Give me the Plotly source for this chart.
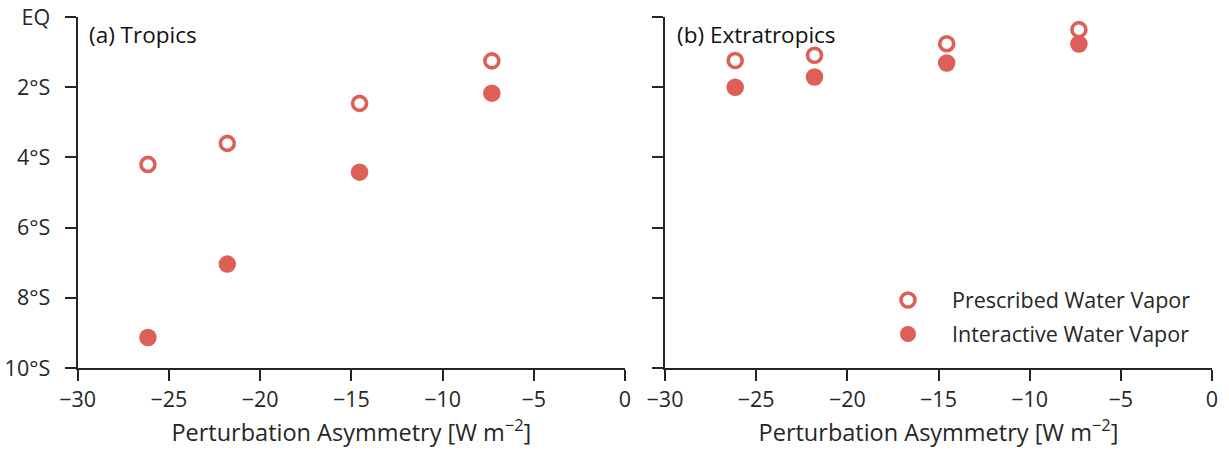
import plotly.graph_objects as go

# Data
forcing = [-26.15, -21.8, -14.55, -7.3]
trop_prescribed = [-4.20, -3.60, -2.46, -1.25]
trop_interactive = [-9.13, -7.04, -4.42, -2.17]
extra_prescribed = [-1.24, -1.09, -0.76, -0.36]
extra_interactive = [-2.00, -1.71, -1.31, -0.77]

ytick_vals = [0, -2, -4, -6, -8, -10]
ytick_text = ["EQ", "2°S", "4°S", "6°S", "8°S", "10°S"]
xtick_vals = [-30, -25, -20, -15, -10, -5, 0]
xtick_text = ["−30", "−25", "−20", "−15", "−10", "−5", "0"]

RED = "#dd5f57"
INK = "#262626"
FONT = "Open Sans"
FS = 21.5
W, H = 1229, 452

fig = go.Figure()

def add_panel(prescribed, interactive, xa, ya, show):
    fig.add_trace(go.Scatter(
        x=forcing, y=prescribed, mode="markers", xaxis=xa, yaxis=ya,
        name="Prescribed Water Vapor", showlegend=show, legend="legend",
        marker=dict(symbol="circle", size=14, color="white",
                    line=dict(color=RED, width=3.6)),
    ))
    fig.add_trace(go.Scatter(
        x=forcing, y=interactive, mode="markers", xaxis=xa, yaxis=ya,
        name="Interactive Water Vapor", showlegend=show, legend="legend2",
        marker=dict(symbol="circle", size=17.5, color=RED, line=dict(width=0)),
    ))

add_panel(trop_prescribed, trop_interactive, "x", "y", False)
add_panel(extra_prescribed, extra_interactive, "x2", "y2", True)

ydom = [1 - 368 / H, 1 - 17 / H]
axis_common = dict(
    showline=True, linecolor=INK, linewidth=2.4, mirror=False,
    ticks="outside", ticklen=11, tickwidth=2.4, tickcolor=INK,
    showgrid=False, zeroline=False, automargin=False,
    tickfont=dict(family=FONT, size=FS, color=INK),
)
xtitle = dict(text="Perturbation Asymmetry [W m<sup>−2</sup>]",
              font=dict(family=FONT, size=23.5, color=INK), standoff=4)

leg_common = dict(xanchor="left", yanchor="middle", bgcolor="rgba(0,0,0,0)",
                  borderwidth=0, itemwidth=78,
                  font=dict(family=FONT, size=21.5, color=INK))

fig.update_layout(
    width=W, height=H,
    margin=dict(l=0, r=0, t=0, b=0, autoexpand=False),
    paper_bgcolor="white", plot_bgcolor="white",
    xaxis=dict(domain=[77.7 / W, 625 / W], range=[-30, 0], anchor="y",
               tickvals=xtick_vals, ticktext=xtick_text, title=xtitle,
               ticklabelstandoff=0, **axis_common),
    yaxis=dict(domain=ydom, range=[-10, 0], anchor="x",
               tickvals=ytick_vals, ticktext=ytick_text,
               ticklabelstandoff=10, **axis_common),
    xaxis2=dict(domain=[665 / W, 1212 / W], range=[-30, 0], anchor="y2",
                tickvals=xtick_vals, ticktext=xtick_text, title=xtitle,
                ticklabelstandoff=0, **axis_common),
    yaxis2=dict(domain=ydom, range=[-10, 0], anchor="x2",
                tickvals=ytick_vals, showticklabels=False, **axis_common),
    legend=dict(x=864 / W, y=1 - 300 / H, **leg_common),
    legend2=dict(x=864 / W, y=1 - 334 / H, **leg_common),
    annotations=[
        dict(text="(a) Tropics", x=87 / W, y=1 - 35 / H, xref="paper", yref="paper",
             xanchor="left", yanchor="middle", showarrow=False,
             font=dict(family=FONT, size=22.5, color="#111111")),
        dict(text="(b) Extratropics", x=675 / W, y=1 - 35 / H, xref="paper", yref="paper",
             xanchor="left", yanchor="middle", showarrow=False,
             font=dict(family=FONT, size=22.5, color="#111111")),
    ],
)

fig.write_html("out.html")
